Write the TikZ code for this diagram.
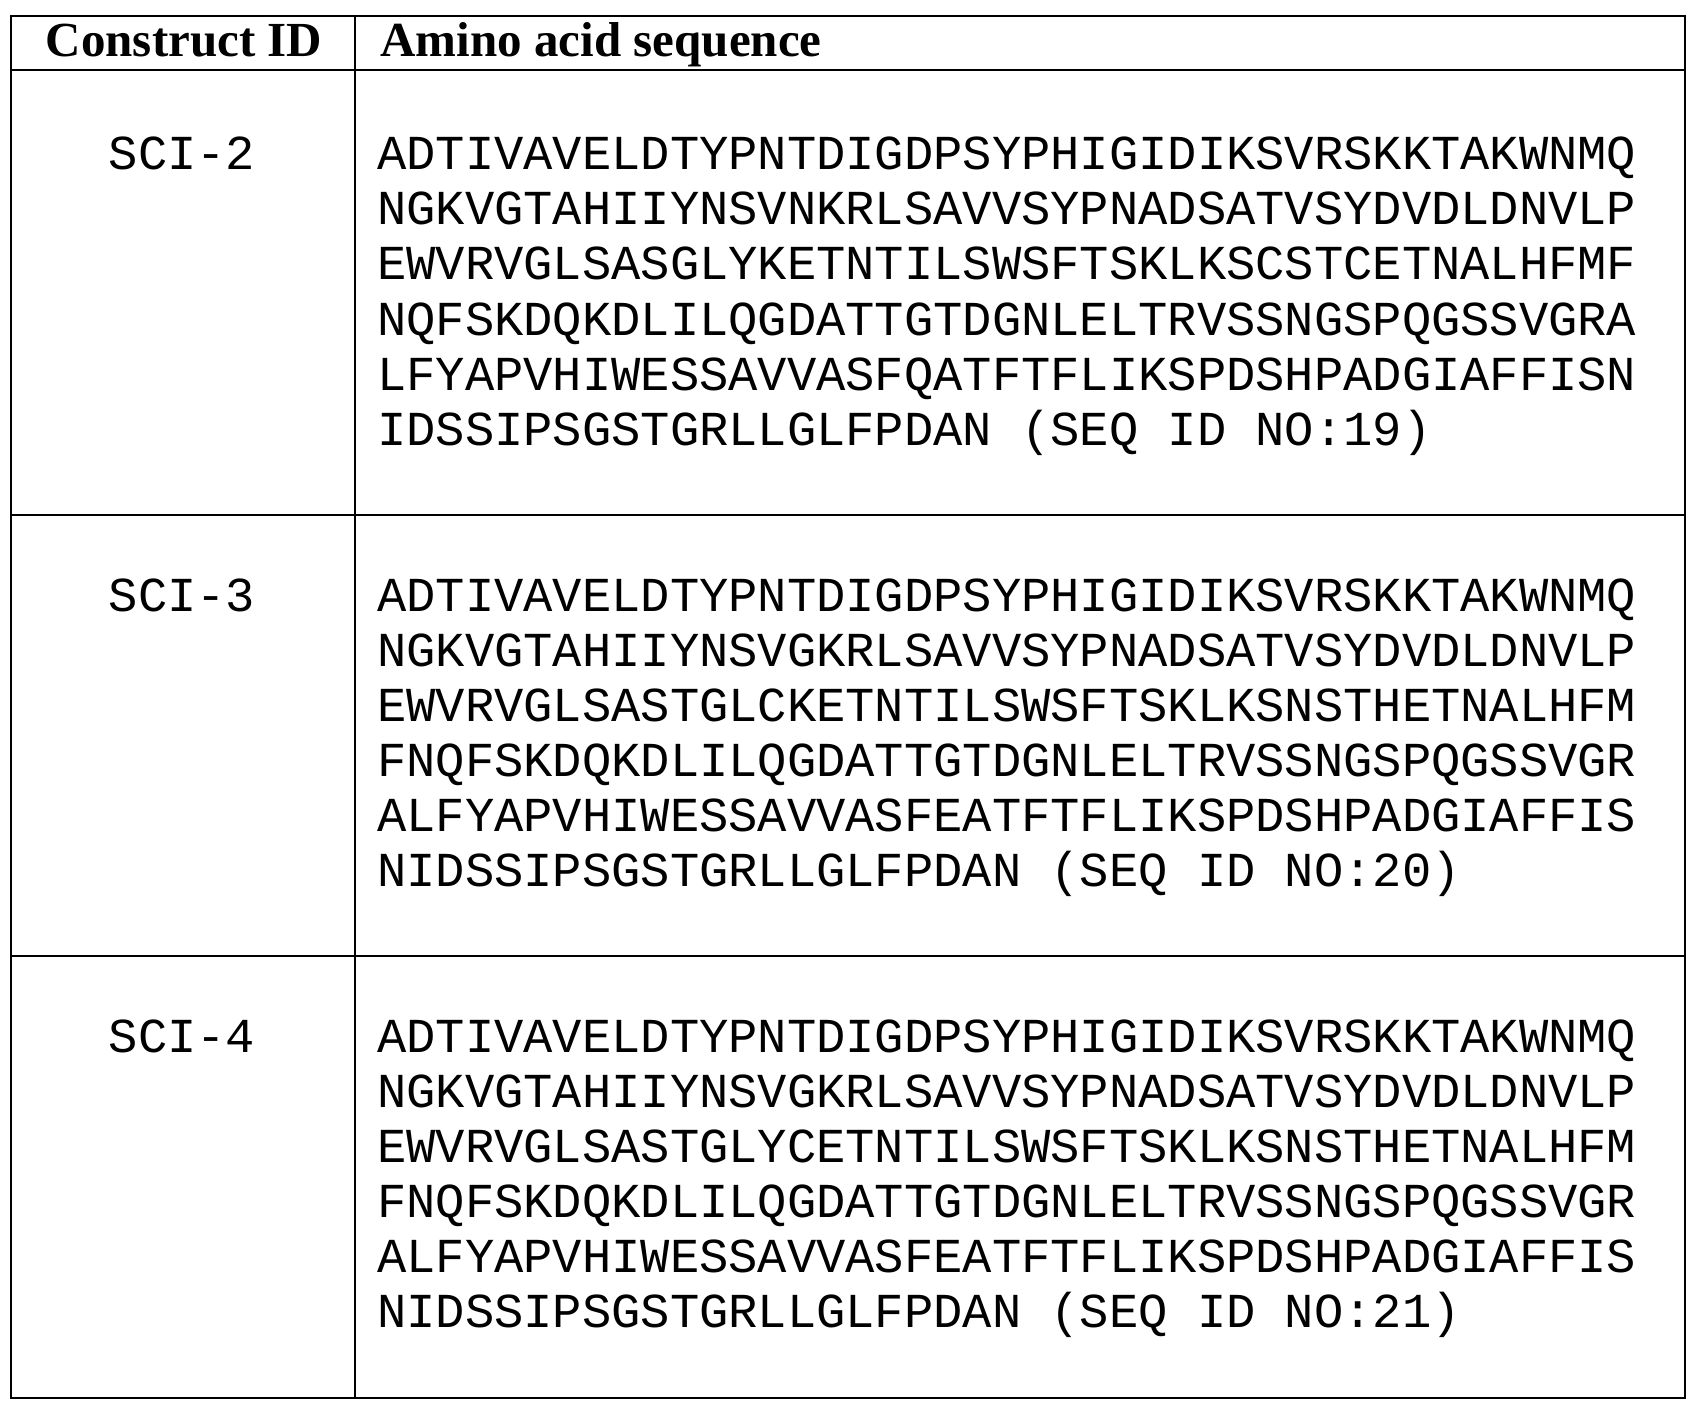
\documentclass[tikz,border=0pt]{standalone}
\usepackage{fontspec}
\setmainfont{Liberation Serif}
\setmonofont{Liberation Mono}
\begin{document}
\begin{tikzpicture}[x=1pt,y=-1pt,
  hdr/.style={font=\fontsize{49}{52}\selectfont\bfseries,anchor=base},
  seq/.style={font=\fontsize{48.8}{55}\ttfamily,anchor=base west,inner sep=0},
  lbl/.style={font=\fontsize{48.8}{55}\ttfamily,anchor=base,inner sep=0},
  rule/.style={line width=1.6pt}]
\useasboundingbox (0,0) rectangle (1699,1412);
\draw[rule] (11,16) rectangle (1685,1398);
\draw[rule] (355,16) -- (355,1398);
\draw[rule] (11,70) -- (1685,70);
\draw[rule] (11,515) -- (1685,515);
\draw[rule] (11,956) -- (1685,956);
\node[hdr] (h1) at (184,57) {Construct ID};
\node[hdr,anchor=base west] (h2) at (377,57) {Amino acid sequence};
\foreach \lab/\y/\a/\b/\c/\d/\e/\f/\n in {
 SCI-2/170/ADTIVAVELDTYPNTDIGDPSYPHIGIDIKSVRSKKTAKWNMQ/NGKVGTAHIIYNSVNKRLSAVVSYPNADSATVSYDVDLDNVLP/EWVRVGLSASGLYKETNTILSWSFTSKLKSCSTCETNALHFMF/NQFSKDQKDLILQGDATTGTDGNLELTRVSSNGSPQGSSVGRA/LFYAPVHIWESSAVVASFQATFTFLIKSPDSHPADGIAFFISN/IDSSIPSGSTGRLLGLFPDAN (SEQ ID NO:19)/a,
 SCI-3/611/ADTIVAVELDTYPNTDIGDPSYPHIGIDIKSVRSKKTAKWNMQ/NGKVGTAHIIYNSVGKRLSAVVSYPNADSATVSYDVDLDNVLP/EWVRVGLSASTGLCKETNTILSWSFTSKLKSNSTHETNALHFM/FNQFSKDQKDLILQGDATTGTDGNLELTRVSSNGSPQGSSVGR/ALFYAPVHIWESSAVVASFEATFTFLIKSPDSHPADGIAFFIS/NIDSSIPSGSTGRLLGLFPDAN (SEQ ID NO:20)/b,
 SCI-4/1052/ADTIVAVELDTYPNTDIGDPSYPHIGIDIKSVRSKKTAKWNMQ/NGKVGTAHIIYNSVGKRLSAVVSYPNADSATVSYDVDLDNVLP/EWVRVGLSASTGLYCETNTILSWSFTSKLKSNSTHETNALHFM/FNQFSKDQKDLILQGDATTGTDGNLELTRVSSNGSPQGSSVGR/ALFYAPVHIWESSAVVASFEATFTFLIKSPDSHPADGIAFFIS/NIDSSIPSGSTGRLLGLFPDAN (SEQ ID NO:21)/c} {
  \node[lbl] (l\n) at (182,\y) {\lab};
  \node[seq] (s\n1) at (377,\y) {\a};
  \node[seq] (s\n2) at (377,\y+55) {\b};
  \node[seq] (s\n3) at (377,\y+110) {\c};
  \node[seq] (s\n4) at (377,\y+165) {\d};
  \node[seq] (s\n5) at (377,\y+220) {\e};
  \node[seq] (s\n6) at (377,\y+275) {\f};
}
\end{tikzpicture}
\end{document}
